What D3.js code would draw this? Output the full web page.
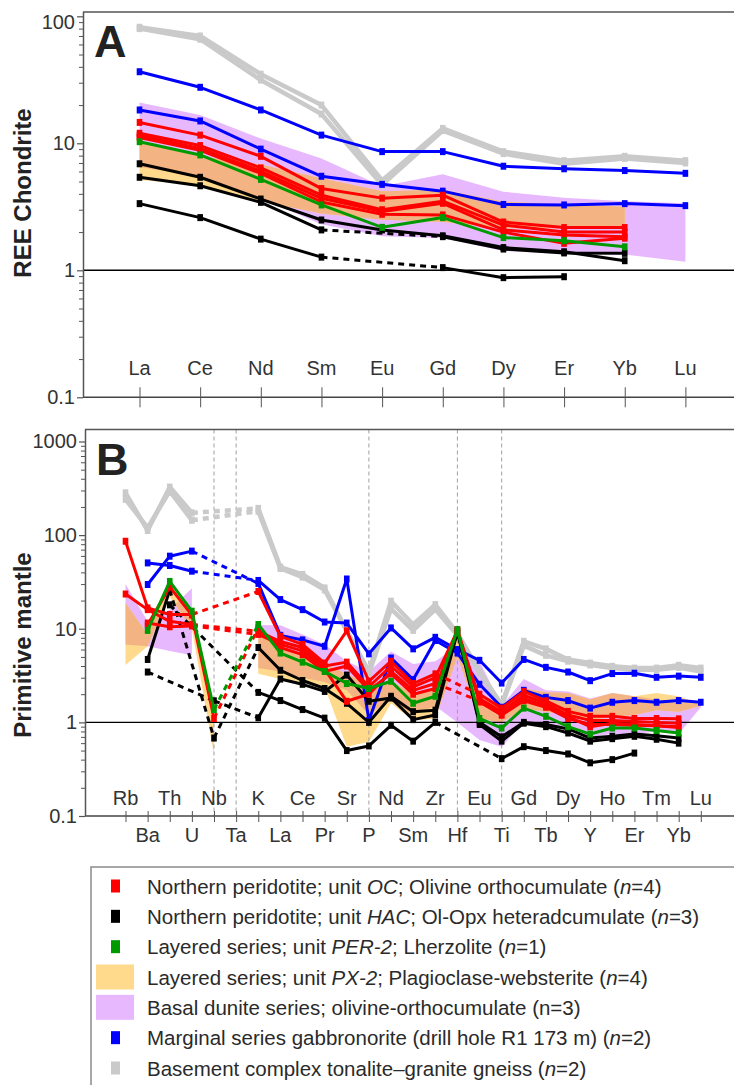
<!DOCTYPE html>
<html lang="en">
<head>
<meta charset="utf-8">
<title>REE chondrite and primitive mantle diagrams</title>
<style>
  body { margin: 0; background: #fff; }
  svg text { font-family: "Liberation Sans", Arial, sans-serif; fill: #333; }
  .axis text { font-size: 20px; fill: #333; }
  .axis line, .axis path { stroke: #555; }
</style>
</head>
<body>
<script src="https://d3js.org/d3.v7.min.js"></script>
<svg id="fig" width="734" height="1085"></svg>
<script>
// ---------------- data: panel A (chondrite normalised REE)
const reeElems = ['La', 'Ce', 'Nd', 'Sm', 'Eu', 'Gd', 'Dy', 'Er', 'Yb', 'Lu'];

const grayA1 = [82, 70, 35, 20, 5.1, 13.1, 8.6, 7.3, 7.9, 7.3];
const grayA2 = [80, 66, 31.5, 17, 4.7, 12.6, 8.3, 6.9, 7.6, 7.0];
const blueA1 = [36.6, 27.6, 18.3, 11.6, 8.6, 8.6, 6.6, 6.3, 6.1, 5.8];
const blueA2 = [18.3, 15.0, 9.0, 5.5, 4.75, 4.2, 3.3, 3.27, 3.35, 3.23];
const redA1 = [14.6, 11.6, 7.9, 4.4, 3.7, 3.9, 2.4, 2.17, 2.17, null];
const redA2 = [12.0, 9.6, 6.4, 3.9, 3.0, 3.5, 2.27, 2.0, 2.0, null];
const redA3 = [11.5, 9.1, 6.05, 3.69, 2.9, 3.37, 2.08, 1.9, 1.84, null];
const redA4 = [11.1, 8.8, 5.8, 3.45, 2.76, 2.73, 2.0, 1.63, 1.79, null];
const greenA = [10.3, 8.1, 5.2, 3.27, 2.18, 2.6, 1.81, 1.71, 1.53, null];
const blackA1 = [6.9, 5.4, 3.64, 2.49, 2.08, 1.87, 1.51, 1.4, 1.19, null];
const blackA2 = [5.4, 4.63, 3.43, 2.08, null, 1.84, 1.47, 1.37, 1.36, null];
const blackA3 = [3.35, 2.6, 1.76, 1.27, null, 1.05, 0.875, 0.89, null, null];
// fields: upper / lower envelope
const dunA_hi = [21, 16.7, 10.9, 7.6, 4.6, 5.7, 4.16, 3.73, 3.5, 3.37];
const dunA_lo = [6.5, 5.45, 3.7, 2.3, 1.85, 1.8, 1.42, 1.35, 1.33, 1.17];
const pxA_hi = [10.2, 7.9, 6.8, 5.3, 4.2, 4.3, 3.47, 3.3, 3.17, null];
const pxA_lo = [5.15, 4.7, 3.5, 2.8, 2.5, 2.4, 2.14, 2.14, 2.14, null];

// ---------------- data: panel B (primitive mantle normalised)
const pmElems = ['Rb', 'Ba', 'Th', 'U', 'Nb', 'Ta', 'K', 'La', 'Ce', 'Pr', 'Sr', 'P', 'Nd', 'Sm',
  'Zr', 'Hf', 'Eu', 'Ti', 'Gd', 'Tb', 'Dy', 'Y', 'Ho', 'Er', 'Tm', 'Yb', 'Lu'];
const pmDivides = ['Nb', 'Ta', 'P', 'Hf', 'Ti'];

const grayB1 = [283, 112, 326, 173, null, null, 193, 45.5, 38, 27.3, 9.5, 3.5, 19.7, 11.1, 18.1, 9, 3.5, 1.55, 7.35, 6.1, 4.7, 4.3, 3.97, 3.8, 3.8, 4.07, 3.8];
const grayB2 = [241, 120, 295, 144, null, null, 180, 44, 35.6, 26, 9.5, 3.3, 16.3, 9.6, 16.1, 8.5, 3.4, 1.5, 6.6, 5.2, 4.5, 4.1, 3.8, 3.65, 3.65, 3.85, 3.5];
const blueB1 = [null, 50.5, 47.4, 41.2, null, null, 32.8, 20.5, 16, 11.8, 11.5, 5.4, 10.2, 6.1, 8.1, 6.0, 4.6, 2.63, 4.7, 3.87, 3.45, 2.79, 3.32, 3.35, 3.03, 3.12, 3.03];
const blueB2 = [null, 29.7, 59.6, 67.5, null, null, 30.5, 8.5, 7.6, 6.5, 34, 1.05, 4.87, 2.86, 7.5, 5.5, 2.55, 1.45, 2.2, 1.85, 1.71, 1.42, 1.64, 1.71, 1.64, 1.71, 1.64];
const redB1 = [86, 16.7, 14.2, 14.2, null, null, 25, 8.3, 6.8, 4.3, 9.5, 2.75, 4.5, 2.6, 3.3, null, 2.0, 1.42, 2.14, 1.7, 1.31, 1.16, 1.16, 1.1, 1.1, 1.09, null];
const redB2 = [23.5, 16, 12, 11.1, null, null, 9.4, 7.3, 6.3, 4.0, 4.4, 2.4, 4.0, 2.4, 3.0, 9.5, 1.8, 1.3, 1.95, 1.6, 1.2, 1.05, 1.05, 1.02, 1.0, 0.98, null];
const redB3 = [null, 11.5, 10.5, 10.7, null, null, 8.7, 6.8, 5.8, 3.7, 1.68, 2.0, 3.5, 2.2, 2.6, null, 1.7, 1.2, 1.8, 1.5, 1.15, 0.9, 0.98, 0.95, 0.92, 0.9, null];
const redB4 = [null, 11, 28, 14, 1.1, null, 10.2, 6.3, 5.3, 3.5, 4.0, 2.2, 3.3, 2.0, 2.3, 9.8, 1.65, 1.2, 1.7, 1.45, 1.1, 0.95, 0.95, 0.93, 0.92, 0.88, null];
const greenB = [null, 9.6, 32, 15.4, 1.37, null, 11.1, 5.5, 4.4, 3.5, 2.6, 2.3, 2.75, 1.6, 1.9, 9.8, 1.1, 0.87, 1.42, 1.16, 0.9, 0.75, 0.87, 0.87, 0.82, 0.77, null];
const blackB1 = [null, 4.7, 26, null, 0.68, null, 6.3, 3.6, 2.8, 2.3, 1.6, 1.0, 1.9, 1.3, 1.35, 9.5, 1.0, 0.7, 1.0, 0.95, 0.85, 0.68, 0.71, 0.75, 0.72, 0.68, null];
const blackB2 = [null, 3.45, null, null, 1.7, null, 1.12, 2.9, 2.55, 2.14, 3.2, 1.68, 1.82, 1.07, 1.2, 9.2, 0.95, 0.63, 0.98, 0.9, 0.77, 0.63, 0.67, 0.71, 0.66, 0.6, null];
const blackB3 = [null, null, 18, null, null, null, 2.09, 1.71, 1.37, 1.11, 0.5, 0.56, 0.93, 0.63, 1.0, null, null, 0.41, 0.55, 0.5, 0.46, 0.37, 0.4, 0.47, null, null, null];
const dunB_hi = [30, 12, 16, 27, null, null, 11, 10.9, 8.7, 6.8, 4.5, 3.5, 5.7, 4.2, 4.5, 6.5, 4.5, 1.5, 2.9, 2.2, 2.14, 1.8, 2.06, 1.9, 1.75, 1.6, 1.6];
const dunB_lo = [6.8, 6.5, 5.8, 5.2, null, null, 3.8, 3.5, 3.0, 2.7, 2.2, 1.2, 1.8, 1.2, 1.5, 1.0, 0.65, 0.55, 1.0, 0.9, 0.85, 0.7, 0.75, 0.75, 0.8, 0.75, 1.45];
const pxB_hi = [19, 8.7, 30, 15, 1.3, null, 10, 6.5, 5.3, 4.2, 3.3, 2.5, 2.8, 2.0, 2.4, 9.5, 1.9, 1.4, 2.3, 2.1, 2.06, 1.75, 2.06, 1.9, 2.06, 1.9, 1.56];
const pxB_lo = [4.1, 6.5, 22, 10, 0.45, null, 3.3, 2.9, 2.7, 2.4, 0.55, 0.62, 1.6, 1.05, 1.1, 5, 1.1, 1.0, 1.4, 1.3, 1.2, 1.05, 1.15, 1.2, 1.35, 1.3, 1.5];

// ---------------- legend
const legendRows = [
  {kind: 'mark', key: 'red', parts: [['Northern peridotite; unit ', 0], ['OC', 1], ['; Olivine orthocumulate (', 0], ['n', 1], ['=4)', 0]]},
  {kind: 'mark', key: 'black', parts: [['Northern peridotite; unit ', 0], ['HAC', 1], ['; Ol-Opx heteradcumulate (', 0], ['n', 1], ['=3)', 0]]},
  {kind: 'mark', key: 'green', parts: [['Layered series; unit ', 0], ['PER-2', 1], ['; Lherzolite (', 0], ['n', 1], ['=1)', 0]]},
  {kind: 'field', key: 'px', parts: [['Layered series; unit ', 0], ['PX-2', 1], ['; Plagioclase-websterite (', 0], ['n', 1], ['=4)', 0]]},
  {kind: 'field', key: 'dun', parts: [['Basal dunite series; olivine-orthocumulate (n=3)', 0]]},
  {kind: 'mark', key: 'blue', parts: [['Marginal series gabbronorite (drill hole R1 173 m) (', 0], ['n', 1], ['=2)', 0]]},
  {kind: 'mark', key: 'gray', parts: [['Basement complex tonalite\u2013granite gneiss (', 0], ['n', 1], ['=2)', 0]]}
];

// ---------------- styles
const colors = {red: '#ff0000', black: '#000000', green: '#009a00', blue: '#0000ff', gray: '#cacaca',
  px: '#ffd98c', dun: '#e8b8ff', both: '#f3b382'};
const W = 734;
const svg = d3.select('#fig');
const font = '"Liberation Sans", Arial, sans-serif';

function drawPanel(cfg) {
  const g = svg.append('g');
  const x = d3.scalePoint().domain(cfg.elems).range(cfg.xRange);
  const y = d3.scaleLog().domain(cfg.yDomain).range(cfg.yRange);
  const yb = y(cfg.yDomain[0]);

  // fields
  const toRows = (hi, lo) => cfg.elems.map((e, i) => ({e, hi: hi[i], lo: lo[i]}));
  const area = d3.area().defined(d => d.hi != null)
    .x(d => x(d.e)).y0(d => y(d.lo)).y1(d => y(d.hi));
  const dunRows = toRows(cfg.dun[0], cfg.dun[1]);
  const pxRows = toRows(cfg.px[0], cfg.px[1]);
  g.append('clipPath').attr('id', 'clip' + cfg.id)
    .append('path').attr('d', area(dunRows));
  g.append('path').attr('d', area(dunRows)).attr('fill', colors.dun);
  g.append('path').attr('d', area(pxRows)).attr('fill', colors.px);
  g.append('path').attr('d', area(pxRows)).attr('fill', colors.both)
    .attr('clip-path', `url(#clip${cfg.id})`);

  // dashed divides
  if (cfg.divides) {
    g.selectAll('.divide').data(cfg.divides).join('line')
      .attr('x1', d => x(d)).attr('x2', d => x(d))
      .attr('y1', cfg.top).attr('y2', yb)
      .attr('stroke', '#a0a0a0').attr('stroke-width', 1).attr('stroke-dasharray', '4,3');
  }

  // frame
  g.append('line').attr('x1', cfg.left).attr('x2', W).attr('y1', cfg.top).attr('y2', cfg.top)
    .attr('stroke', '#555').attr('stroke-width', 1.5);
  g.append('line').attr('x1', cfg.left).attr('x2', W).attr('y1', yb).attr('y2', yb)
    .attr('stroke', '#444').attr('stroke-width', 1.5);
  g.append('line').attr('x1', cfg.left).attr('x2', W).attr('y1', y(1)).attr('y2', y(1))
    .attr('stroke', '#000').attr('stroke-width', 1.4);

  // y axis
  const majors = d3.range(Math.log10(cfg.yDomain[0]), Math.log10(cfg.yDomain[1]) + 0.5).map(p => Math.pow(10, p));
  const minors = [];
  majors.slice(0, -1).forEach(m => d3.range(2, 10).forEach(k => minors.push(m * k)));
  g.append('g').attr('class', 'axis').attr('transform', `translate(${cfg.left},0)`)
    .call(d3.axisLeft(y).tickValues(minors).tickSize(4).tickFormat(''))
    .select('.domain').remove();
  const yAx = g.append('g').attr('class', 'axis').attr('transform', `translate(${cfg.left},0)`)
    .call(d3.axisLeft(y).tickValues(majors).tickSize(6).tickPadding(2)
      .tickFormat(d => d < 1 ? '0.1' : d3.format('d')(d)));
  yAx.select('.domain').attr('d', `M0.5,${cfg.top}V${yb}`).attr('stroke-width', 1.5);
  yAx.selectAll('.tick line').attr('stroke-width', 1.2);
  if (cfg.topLabelNudge) {
    yAx.selectAll('.tick text').filter(d => d === cfg.yDomain[1]).attr('dy', cfg.topLabelNudge);
  }

  // x ticks, crossing the baseline
  g.append('g').attr('class', 'axis').attr('transform', `translate(0,${yb - cfg.tickUp})`)
    .call(d3.axisBottom(x).tickSize(cfg.tickUp + cfg.tickDown).tickFormat(''))
    .call(s => s.select('.domain').remove())
    .selectAll('line').attr('stroke', '#555');

  // element labels
  g.selectAll('.elab').data(cfg.elems).join('text')
    .attr('x', d => x(d))
    .attr('y', (d, i) => cfg.labelY[i % cfg.labelY.length])
    .attr('text-anchor', 'middle')
    .style('font-size', '20px')
    .text(d => d);

  // series
  const dashed = g.append('g'), solid = g.append('g');
  cfg.series.forEach(s => {
    const w = s.key === 'gray' ? 4.5 : 3;
    const pts = s.values.map((v, i) => ({e: cfg.elems[i], i, v}));
    const def = pts.filter(p => p.v != null);
    const gaps = d3.pairs(def).filter(([a, b]) => b.i - a.i > 1);
    const sg = solid.append('g');
    sg.selectAll('line.gap').data(gaps).join('line')
      .attr('x1', d => x(d[0].e)).attr('y1', d => y(d[0].v))
      .attr('x2', d => x(d[1].e)).attr('y2', d => y(d[1].v))
      .attr('stroke', colors[s.key]).attr('stroke-width', w)
      .attr('stroke-dasharray', '6,5');
    sg.append('path')
      .attr('d', d3.line().defined(p => p.v != null).x(p => x(p.e)).y(p => y(p.v))(pts))
      .attr('fill', 'none').attr('stroke', colors[s.key]).attr('stroke-width', w)
      .attr('stroke-linejoin', 'round');
    sg.selectAll('rect').data(def).join('rect')
      .attr('x', p => x(p.e) - 2.8).attr('y', p => y(p.v) - 3.5)
      .attr('width', 5.6).attr('height', 7)
      .attr('fill', colors[s.key]);
  });

  // panel letter and axis title
  g.append('text').attr('x', cfg.left + 11).attr('y', cfg.top + 45)
    .style('font-size', '45px').style('font-weight', 'bold').style('fill', '#222')
    .text(cfg.letter);
  g.append('text')
    .attr('transform', `translate(${cfg.titleX},${cfg.titleY}) rotate(-90)`)
    .attr('text-anchor', 'middle')
    .style('font-size', '24px').style('font-weight', 'bold').style('fill', '#222')
    .text(cfg.title);
}

const seriesA = [
  {key: 'gray', values: grayA1}, {key: 'gray', values: grayA2},
  {key: 'blue', values: blueA1}, {key: 'blue', values: blueA2},
  {key: 'black', values: blackA1}, {key: 'black', values: blackA2}, {key: 'black', values: blackA3},
  {key: 'red', values: redA1}, {key: 'red', values: redA2}, {key: 'red', values: redA3}, {key: 'red', values: redA4},
  {key: 'green', values: greenA}
];
const seriesB = [
  {key: 'gray', values: grayB1}, {key: 'gray', values: grayB2},
  {key: 'blue', values: blueB1}, {key: 'blue', values: blueB2},
  {key: 'black', values: blackB1}, {key: 'black', values: blackB2}, {key: 'black', values: blackB3},
  {key: 'red', values: redB1}, {key: 'red', values: redB2}, {key: 'red', values: redB3}, {key: 'red', values: redB4},
  {key: 'green', values: greenB}
];

drawPanel({
  id: 'A', letter: 'A', title: 'REE Chondrite', titleX: 31, titleY: 193,
  elems: reeElems, xRange: [139.5, 685.4], yDomain: [0.1, 100], yRange: [397.3, 16.3],
  left: 83, top: 12, tickUp: 10, tickDown: 10, labelY: [375], topLabelNudge: '0.6em',
  dun: [dunA_hi, dunA_lo], px: [pxA_hi, pxA_lo], series: seriesA
});
drawPanel({
  id: 'B', letter: 'B', title: 'Primitive mantle', titleX: 31, titleY: 645,
  elems: pmElems, xRange: [125.5, 700.8], yDomain: [0.1, 1000], yRange: [816, 441.5],
  left: 85, top: 429.5, tickUp: 5, tickDown: 6, labelY: [805, 842], divides: pmDivides,
  dun: [dunB_hi, dunB_lo], px: [pxB_hi, pxB_lo], series: seriesB
});

// ---------------- legend
const lg = svg.append('g');
lg.append('path').attr('d', `M91,1085V867H${W}`).attr('fill', 'none')
  .attr('stroke', '#8a8a8a').attr('stroke-width', 1.5);
const rowY = d3.scalePoint().domain(d3.range(legendRows.length)).range([886, 1068]);
const rows = lg.selectAll('.lrow').data(legendRows).join('g')
  .attr('transform', (d, i) => `translate(0,${rowY(i)})`);
rows.filter(d => d.kind === 'mark').append('rect')
  .attr('x', 111).attr('y', -6.5).attr('width', 9).attr('height', 13)
  .attr('fill', d => colors[d.key]);
rows.filter(d => d.kind === 'field').append('rect')
  .attr('x', 96).attr('y', -12.5).attr('width', 38).attr('height', 25)
  .attr('fill', d => colors[d.key]);
rows.append('text').attr('x', 147).attr('y', 7.5)
  .style('font-size', '20.5px').style('fill', '#2a2a2a')
  .selectAll('tspan').data(d => d.parts).join('tspan')
  .style('font-style', p => p[1] ? 'italic' : 'normal')
  .text(p => p[0]);
</script>
</body>
</html>
